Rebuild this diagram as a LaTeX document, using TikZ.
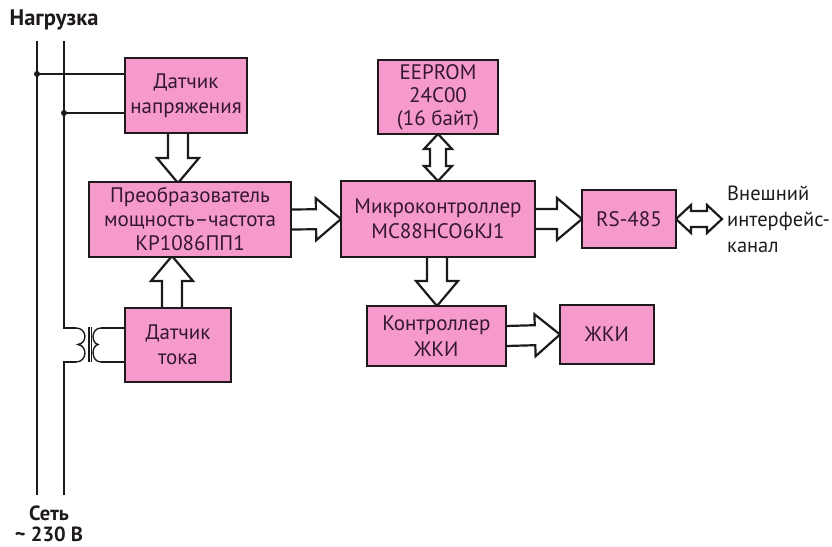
\documentclass[tikz,border=0pt]{standalone}
\usepackage{fontspec}
\setmainfont{PT Sans}
\usetikzlibrary{calc,backgrounds}
\definecolor{boxpink}{HTML}{F59ACB}
\definecolor{boxtext}{HTML}{35182F}
\definecolor{ink}{HTML}{1E1A1C}
\tikzset{
  box/.style={draw=ink,fill=boxpink,line width=2.4pt,text=boxtext,inner sep=0pt,outer sep=0pt,align=center,font=\fontsize{21}{25.5}\selectfont},
  wire/.style={draw=ink,line width=2pt},
  thinwire/.style={draw=ink,line width=1.4pt},
  dot/.style={circle,fill=ink,inner sep=0pt,minimum size=6pt},
  lbl/.style={text=ink,inner sep=0pt,font=\fontsize{20.5}{26}\selectfont},
  blbl/.style={text=ink,inner sep=0pt,font=\fontsize{22.5}{26}\selectfont\bfseries},
  blbls/.style={text=ink,inner sep=0pt,font=\fontsize{20.5}{26}\selectfont\bfseries},
  fatline/.style={draw=ink,fill=white,line width=2.2pt,line join=miter,miter limit=6},
  fat/.style={fatline,to path={
    ($(\tikztostart)!10pt!90:(\tikztotarget)$) --
    ($(\tikztotarget)!25pt!(\tikztostart)!10pt!-90:(\tikztostart)$) --
    ($(\tikztotarget)!25pt!(\tikztostart)!21pt!-90:(\tikztostart)$) --
    (\tikztotarget) --
    ($(\tikztotarget)!25pt!(\tikztostart)!21pt!90:(\tikztostart)$) --
    ($(\tikztotarget)!25pt!(\tikztostart)!10pt!90:(\tikztostart)$) --
    ($(\tikztostart)!10pt!-90:(\tikztotarget)$)}},
  dfat/.style={fatline,to path={
    (\tikztostart) --
    ($(\tikztostart)!15pt!(\tikztotarget)!14pt!90:(\tikztotarget)$) --
    ($(\tikztostart)!15pt!(\tikztotarget)!8pt!90:(\tikztotarget)$) --
    ($(\tikztotarget)!15pt!(\tikztostart)!8pt!-90:(\tikztostart)$) --
    ($(\tikztotarget)!15pt!(\tikztostart)!14pt!-90:(\tikztostart)$) --
    (\tikztotarget) --
    ($(\tikztotarget)!15pt!(\tikztostart)!14pt!90:(\tikztostart)$) --
    ($(\tikztotarget)!15pt!(\tikztostart)!8pt!90:(\tikztostart)$) --
    ($(\tikztostart)!15pt!(\tikztotarget)!8pt!-90:(\tikztotarget)$) --
    ($(\tikztostart)!15pt!(\tikztotarget)!14pt!-90:(\tikztotarget)$) --
    cycle}}
}
\begin{document}
\begin{tikzpicture}[x=1pt,y=-1pt]
\useasboundingbox (0,0) rectangle (832,546);
% labels
\node[blbl] (load) at (54,20) {Нагрузка};
\node[blbls] (net) at (49,513) {Сеть};
\node[blbls] (volt) at (49,534.5) {\char"7E\ 230 В};
% boxes
\node[box,minimum width=122pt,minimum height=75pt] (vs) at (186,95.5) {Датчик\\напряжения};
\node[box,minimum width=202pt,minimum height=75pt,font=\fontsize{21}{24}\selectfont] (conv) at (190,219.5) {Преобразователь\\мощность–частота\\КР1086ПП1};
\node[box,minimum width=106pt,minimum height=74pt] (cs) at (178,345) {Датчик\\тока};
\node[box,minimum width=120pt,minimum height=74pt,font=\fontsize{21}{23}\selectfont] (eep) at (438,97) {EEPROM\\24C00\\(16 байт)};
\node[box,minimum width=194pt,minimum height=76pt] (mcu) at (438,219) {Микроконтроллер\\MC88HCO6KJ1};
\node[box,minimum width=94pt,minimum height=58pt,line width=2pt] (rs) at (629,219) {RS-485};
\node[box,minimum width=139pt,minimum height=60pt] (lcdc) at (436.5,336) {Контроллер\\ЖКИ};
\node[box,minimum width=94pt,minimum height=59pt,line width=1.6pt] (lcd) at (607,334.5) {ЖКИ};
\node[lbl,align=left,anchor=west] (ext) at (727,219) {Внешний\\интерфейс-\\канал};
% mains wires
\coordinate (ltop) at (37,41);
\coordinate (lbot) at (37,495);
\coordinate (rtop) at (64,41);
\coordinate (rbot) at (64,495);
\coordinate (j1) at (37,74);
\coordinate (j2) at (64,113);
\coordinate (p1) at (64,328);
\coordinate (p2) at (64,362);
\draw[wire] (ltop) -- (lbot);
\draw[wire] (rtop) -- (p1) -- ++(12,0);
\draw[wire] (rbot) -- (p2) -- ++(12,0);
\draw[wire] (j1) -- (j1 -| vs.west);
\draw[wire] (j2) -- (j2 -| vs.west);
\node[dot] at (j1) {};
\node[dot] at (j2) {};
% transformer
\draw[thinwire] (76,328) .. controls (87,328) and (88,343) .. (78,344.5) .. controls (88,346) and (87,362) .. (76,362);
\draw[thinwire] (89,327) -- (89,362) (91.5,327) -- (91.5,362);
\draw[thinwire] (101,328) .. controls (91,328) and (91,343) .. (98,344.5) .. controls (91,346) and (91,362) .. (101,362);
\coordinate (s1) at (101,328);
\coordinate (s2) at (101,362);
\draw[wire] (s1) -- (s1 -| cs.west);
\draw[wire] (s2) -- (s2 -| cs.west);
% fat arrows
\begin{scope}[on background layer]
\draw[fatline] ([xshift=-8pt]vs.south) to[fat] ([xshift=-12pt,yshift=-1pt]conv.north);
\draw[fatline] ([xshift=-6pt]cs.north) to[fat] ([xshift=-18pt,yshift=1pt]conv.south);
\draw[fatline] (conv.east) to[fat] (mcu.west);
\draw[fatline] (mcu.east) to[fat] (rs.west);
\draw[fatline] ([xshift=-1pt]mcu.south) to[fat] ([xshift=.5pt]lcdc.north);
\draw[fatline] (lcdc.east) to[fat] (lcd.west);
\draw[fatline] (eep.south) to[dfat] (mcu.north);
\coordinate (extl) at (722,219);
\draw[fatline] (rs.east) to[dfat] (extl);
\end{scope}
\end{tikzpicture}
\end{document}
